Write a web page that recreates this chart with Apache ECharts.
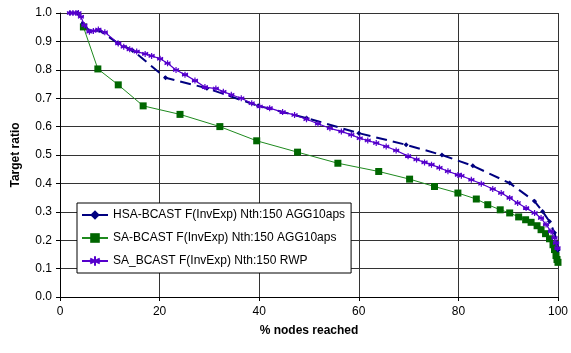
<!DOCTYPE html>
<html>
<head>
<meta charset="utf-8">
<script src="https://cdn.jsdelivr.net/npm/echarts@6/dist/echarts.min.js"></script>
<style>
  html, body { margin: 0; padding: 0; background: #fff; }
  #chart { width: 571px; height: 353px; }
</style>
</head>
<body>
<div id="chart"></div>
<script>
// Series names
const seriesNames = [
  'HSA-BCAST F(InvExp) Nth:150 AGG10aps',
  'SA-BCAST F(InvExp) Nth:150 AGG10aps',
  'SA_BCAST F(InvExp) Nth:150 RWP'
];

// HSA-BCAST, aggregated: [% nodes reached, target ratio]
const hsaAgg = [
  [2.0, 1.0], [3.5, 1.0], [4.6, 0.962], [6.0, 0.936], [8.0, 0.938],
  [11.6, 0.894], [14.6, 0.868], [21.2, 0.772], [29.5, 0.735], [39.8, 0.673],
  [49.5, 0.630], [60.0, 0.577], [69.5, 0.536], [76.7, 0.500], [82.9, 0.462],
  [90.3, 0.401], [95.3, 0.337], [96.9, 0.301], [98.3, 0.266], [99.3, 0.226],
  [99.8, 0.190], [100.0, 0.165]
];

// SA-BCAST, aggregated
const saAgg = [
  [4.7, 0.951], [7.6, 0.803], [11.7, 0.747], [16.7, 0.673], [24.1, 0.643],
  [32.1, 0.600], [39.5, 0.550], [47.7, 0.510], [55.8, 0.471], [64.0, 0.442],
  [70.2, 0.415], [75.2, 0.389], [79.9, 0.366], [83.6, 0.345], [85.9, 0.325],
  [88.4, 0.307], [90.3, 0.296], [92.1, 0.282], [93.5, 0.272], [94.6, 0.263],
  [95.8, 0.251], [96.6, 0.237], [97.5, 0.223], [98.3, 0.205], [99.0, 0.184],
  [99.3, 0.167], [99.6, 0.146], [99.8, 0.132], [100.0, 0.122]
];

// SA_BCAST, random walk
const saRwp = [
  [2.0, 1.0], [2.6, 1.0], [3.2, 1.0], [3.7, 1.0], [4.2, 0.987], [4.9, 0.957],
  [5.9, 0.934], [6.7, 0.937], [7.7, 0.942], [9.0, 0.932], [11.7, 0.893],
  [12.8, 0.881], [14.0, 0.872], [15.4, 0.864], [17.1, 0.856], [18.4, 0.849],
  [20.1, 0.839], [21.6, 0.823], [23.3, 0.799], [25.1, 0.783], [27.1, 0.762],
  [29.1, 0.739], [31.3, 0.734], [32.8, 0.723], [34.4, 0.712], [36.4, 0.700],
  [38.5, 0.682], [40.1, 0.671], [42.1, 0.665], [44.7, 0.651], [47.1, 0.641],
  [49.5, 0.626], [51.8, 0.610], [54.2, 0.594], [56.5, 0.583], [58.5, 0.571],
  [60.2, 0.559], [61.8, 0.551], [63.5, 0.542], [65.5, 0.530], [67.5, 0.516],
  [69.9, 0.496], [71.6, 0.484], [73.2, 0.474], [74.6, 0.466], [76.2, 0.455],
  [77.9, 0.443], [79.9, 0.430], [80.6, 0.427], [82.6, 0.413], [84.6, 0.399],
  [86.9, 0.380], [88.6, 0.366], [90.3, 0.349], [91.9, 0.331], [93.6, 0.313],
  [95.3, 0.296], [96.6, 0.278], [97.6, 0.255], [98.6, 0.231], [99.3, 0.208],
  [99.6, 0.190], [99.9, 0.172]
];

// Axis ranges
const xTicks = { min: 0, max: 100, step: 20 };
const yTicks = { min: 0, max: 1, step: 0.1 };

const FONT = '"Liberation Sans", Arial, sans-serif';
const asterisk = 'path://M5,0 L5,10 M0,2.5 L10,7.5 M0,7.5 L10,2.5 M0,5 L10,5';

const chart = echarts.init(document.getElementById('chart'), null, { renderer: 'canvas' });

chart.setOption({
  animation: false,
  backgroundColor: '#ffffff',
  grid: { left: 60, right: 13, top: 13, bottom: 56, containLabel: false },
  xAxis: {
    type: 'value',
    min: xTicks.min, max: xTicks.max, interval: xTicks.step,
    name: '% nodes reached',
    nameLocation: 'middle',
    nameGap: 28,
    nameTextStyle: { fontFamily: FONT, fontSize: 12, fontWeight: 'bold', color: '#000' },
    axisLine: { lineStyle: { color: '#000', width: 1 } },
    axisTick: { show: true, inside: false, length: 4, lineStyle: { color: '#000' } },
    axisLabel: { fontFamily: FONT, fontSize: 12, color: '#000', margin: 9 },
    splitLine: { show: true, lineStyle: { color: '#333', width: 1 } }
  },
  yAxis: {
    type: 'value',
    min: yTicks.min, max: yTicks.max, interval: yTicks.step,
    name: 'Target ratio',
    nameLocation: 'middle',
    nameGap: 38,
    nameRotate: 90,
    nameTextStyle: { fontFamily: FONT, fontSize: 12, fontWeight: 'bold', color: '#000' },
    axisLine: { show: true, lineStyle: { color: '#000', width: 1 } },
    axisTick: { show: true, inside: false, length: 4, lineStyle: { color: '#000' } },
    axisLabel: {
      fontFamily: FONT, fontSize: 12, color: '#000', margin: 8,
      formatter: v => v.toFixed(1)
    },
    splitLine: { show: true, lineStyle: { color: '#333', width: 1 } }
  },
  legend: {
    left: 77,
    top: 203,
    orient: 'vertical',
    backgroundColor: '#ffffff',
    borderColor: '#000',
    borderWidth: 1,
    borderRadius: 0,
    padding: [6, 6, 6, 4],
    itemGap: 11,
    itemWidth: 26,
    itemHeight: 12,
    textStyle: { fontFamily: FONT, fontSize: 12, color: '#000' },
    data: seriesNames
  },
  series: [
    {
      name: seriesNames[0],
      type: 'line',
      data: hsaAgg,
      z: 3,
      symbol: 'diamond',
      symbolSize: 5,
      itemStyle: { color: '#000080' },
      lineStyle: { color: '#000080', width: 2, type: [11, 6] }
    },
    {
      name: seriesNames[1],
      type: 'line',
      data: saAgg,
      z: 2,
      symbol: 'rect',
      symbolSize: 7,
      itemStyle: { color: '#006600' },
      lineStyle: { color: '#1e8a1e', width: 1 }
    },
    {
      name: seriesNames[2],
      type: 'line',
      data: saRwp,
      z: 4,
      symbol: asterisk,
      symbolSize: 6,
      itemStyle: { color: 'rgba(0,0,0,0)', borderColor: '#5500cc', borderWidth: 1.2 },
      lineStyle: { color: '#5500cc', width: 1.2 }
    }
  ]
});
</script>
</body>
</html>
